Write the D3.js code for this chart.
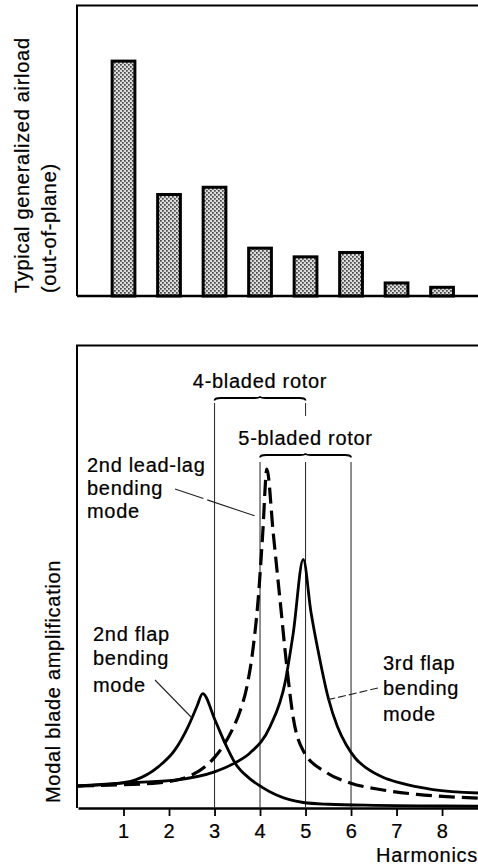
<!DOCTYPE html>
<html>
<head>
<meta charset="utf-8">
<script src="https://cdn.jsdelivr.net/npm/d3@7/dist/d3.min.js"></script>
<style>
  html, body { margin: 0; padding: 0; background: #fff; }
  svg { display: block; }
  text { font-family: "Liberation Sans", Arial, Helvetica, sans-serif; font-size: 20px; letter-spacing: 0.7px; fill: #000; stroke: #000; stroke-width: 0.22px; }
</style>
</head>
<body>
<script>
// ---------- DATA ----------
const harmonics = [1, 2, 3, 4, 5, 6, 7, 8];
const airload = [81, 35, 37.5, 16.5, 13.5, 15, 4.5, 3];

const tickValues = [1, 2, 3, 4, 5, 6, 7, 8];
const tickLabels = ["1", "2", "3", "4", "5", "6", "7", "8"];

// 2nd flap bending mode (solid)
const flap2H = [0, 0.5, 1.0, 1.25, 1.77, 2.13, 2.42, 2.61, 2.74, 3.01, 3.23, 3.45, 3.76, 4.04, 4.35, 4.95, 5.5, 6.5, 7.5, 8.8];
const flap2A = [1.0, 1.05, 1.15, 1.27, 1.88, 2.64, 3.7, 4.6, 5.2, 4.0, 2.95, 2.05, 1.36, 0.95, 0.6, 0.25, 0.17, 0.12, 0.1, 0.08];

// 2nd lead-lag bending mode (dashed)
const leadLagH = [0, 1.0, 1.76, 2.5, 3.0, 3.2, 3.4, 3.56, 3.72, 3.85, 3.96, 4.06, 4.15, 4.29, 4.44, 4.59, 4.73, 4.95, 5.47, 5.98, 6.7, 7.45, 8.8];
const leadLagA = [1.0, 1.06, 1.14, 1.5, 2.3, 2.85, 3.6, 4.4, 5.6, 7.3, 9.5, 12.5, 15.4, 12.5, 9.45, 6.4, 4.1, 2.6, 1.6, 1.14, 0.82, 0.62, 0.45];

// 3rd flap bending mode (solid)
const flap3H = [0, 1.03, 2.13, 3.0, 3.45, 3.78, 4.22, 4.55, 4.73, 4.95, 5.12, 5.3, 5.5, 5.7, 5.9, 6.1, 6.35, 6.7, 7.08, 7.8, 8.8];
const flap3A = [1.0, 1.14, 1.27, 1.64, 2.05, 2.5, 3.7, 5.7, 7.95, 11.3, 8.9, 6.9, 5.0, 3.7, 2.85, 2.25, 1.8, 1.4, 1.14, 0.84, 0.68];

// rotor harmonic ranges
const rotorLabels = ["4-bladed rotor", "5-bladed rotor"];
const rotorStart = [3, 4];
const rotorEnd = [5, 6];

// ---------- LAYOUT ----------
const W = 478, H = 868;
const svg = d3.select("body").append("svg").attr("width", W).attr("height", H);

const x = d3.scaleLinear().domain([0, 8.79]).range([78, 478]);

const defs = svg.append("defs");
const pat = defs.append("pattern").attr("id", "stipple").attr("patternUnits", "userSpaceOnUse")
  .attr("width", 4).attr("height", 4);
pat.append("rect").attr("width", 4).attr("height", 4).attr("fill", "#dcdcdc");
pat.append("rect").attr("x", 0).attr("y", 0).attr("width", 1.7).attr("height", 1.7).attr("fill", "#444");
pat.append("rect").attr("x", 2).attr("y", 2).attr("width", 1.7).attr("height", 1.7).attr("fill", "#444");

// ---------- TOP CHART ----------
const yTop = d3.scaleLinear().domain([0, 100]).range([296, 6]);
const gTop = svg.append("g");

gTop.append("path").attr("d", `M${x(0) - 1},${yTop(0)} L${x(0) - 1},${yTop(100) - 0.5} L${W},${yTop(100) - 0.5}`)
  .attr("fill", "none").attr("stroke", "#000").attr("stroke-width", 2);

const barW = (x(1) - x(0)) * 0.5;
gTop.selectAll("rect.bar").data(harmonics).enter().append("rect")
  .attr("class", "bar")
  .attr("x", d => x(d) - barW / 2)
  .attr("y", (d, i) => yTop(airload[i]))
  .attr("width", barW)
  .attr("height", (d, i) => yTop(0) - yTop(airload[i]))
  .attr("fill", "url(#stipple)")
  .attr("stroke", "#000")
  .attr("stroke-width", 3);

gTop.append("line").attr("x1", x(0) - 1).attr("x2", W).attr("y1", yTop(0)).attr("y2", yTop(0))
  .attr("stroke", "#000").attr("stroke-width", 2.4);

gTop.append("text").attr("transform", `translate(29,293) rotate(-90)`).text("Typical generalized airload");
gTop.append("text").attr("transform", `translate(56,293) rotate(-90)`).text("(out-of-plane)");

// ---------- BOTTOM CHART ----------
const y = d3.scaleLinear().domain([0, 21]).range([808, 346]);
const bot = svg.append("g");

bot.append("path").attr("d", `M${x(0) - 1},${y(0)} L${x(0) - 1},${y(21) - 0.5} L${W},${y(21) - 0.5}`)
  .attr("fill", "none").attr("stroke", "#000").attr("stroke-width", 2);

const xAxis = d3.axisBottom(x).tickValues(tickValues).tickFormat((d, i) => tickLabels[i])
  .tickSize(8).tickSizeOuter(0).tickPadding(8);
const ax = bot.append("g").attr("transform", `translate(0,${y(0)})`).call(xAxis);
ax.attr("font-size", null).attr("font-family", null);
ax.select(".domain").attr("stroke", "#000").attr("stroke-width", 2.4);
ax.selectAll(".tick line").attr("stroke", "#000").attr("stroke-width", 1.8);
ax.selectAll(".tick text").attr("fill", "#000");

bot.append("text").attr("x", W).attr("y", 862).attr("text-anchor", "end").text("Harmonics");
bot.append("text").attr("transform", `translate(60,803) rotate(-90)`).text("Modal blade amplification");

const braceY = [398, 455];
const labelY = [388, 445];
const lineTop = [403, 462];
const vline = (h, y1, y2) => bot.append("line").attr("x1", x(h)).attr("x2", x(h)).attr("y1", y1).attr("y2", y2)
  .attr("stroke", "#333").attr("stroke-width", 1.1);

vline(rotorStart[0], lineTop[0], y(0));
vline(rotorEnd[0], lineTop[0], lineTop[0] + 13);
vline(rotorStart[1], lineTop[1], y(0));
vline((rotorStart[1] + rotorEnd[1]) / 2, lineTop[1], y(0));
vline(rotorEnd[1], lineTop[1], y(0));

function brace(x0, x1, yy) {
  const m = (x0 + x1) / 2;
  return `M${x0},${yy + 2.5} Q${x0},${yy} ${x0 + 6},${yy} L${m - 6},${yy} Q${m},${yy} ${m},${yy - 1.8} ` +
         `Q${m},${yy} ${m + 6},${yy} L${x1 - 6},${yy} Q${x1},${yy} ${x1},${yy + 2.5}`;
}
rotorLabels.forEach((lab, i) => {
  bot.append("path").attr("d", brace(x(rotorStart[i]), x(rotorEnd[i]), braceY[i]))
    .attr("fill", "none").attr("stroke", "#000").attr("stroke-width", 1.8);
  bot.append("text").attr("x", (x(rotorStart[i]) + x(rotorEnd[i])) / 2).attr("y", labelY[i])
    .attr("text-anchor", "middle").text(lab);
});

const line = d3.line().x(d => x(d[0])).y(d => y(d[1])).curve(d3.curveMonotoneX);
const zip = (a, b) => a.map((v, i) => [v, b[i]]);

bot.append("path").datum(zip(flap3H, flap3A)).attr("d", line)
  .attr("fill", "none").attr("stroke", "#000").attr("stroke-width", 2.8);
bot.append("path").datum(zip(flap2H, flap2A)).attr("d", line)
  .attr("fill", "none").attr("stroke", "#000").attr("stroke-width", 2.8);
bot.append("path").datum(zip(leadLagH, leadLagA)).attr("d", line)
  .attr("fill", "none").attr("stroke", "#000").attr("stroke-width", 3.2)
  .attr("stroke-dasharray", "16,7");

function multi(lines, x0, ys) {
  lines.forEach((t, i) => bot.append("text").attr("x", x0).attr("y", ys[i]).text(t));
}
multi(["2nd lead-lag", "bending", "mode"], 87, [472, 495, 518]);
multi(["2nd flap", "bending", "mode"], 93, [641, 665, 692]);
multi(["3rd flap", "bending", "mode"], 383, [670, 695, 721]);

const leader = (x1, y1, x2, y2, dash) => bot.append("line")
  .attr("x1", x1).attr("y1", y1).attr("x2", x2).attr("y2", y2)
  .attr("stroke", "#222").attr("stroke-width", 1.1)
  .attr("stroke-dasharray", dash || null);
leader(175, 489, 258, 517, "30,4,50");
leader(155, 680, 192, 718);
leader(378, 688, 327, 700, "8,3");
</script>
</body>
</html>
